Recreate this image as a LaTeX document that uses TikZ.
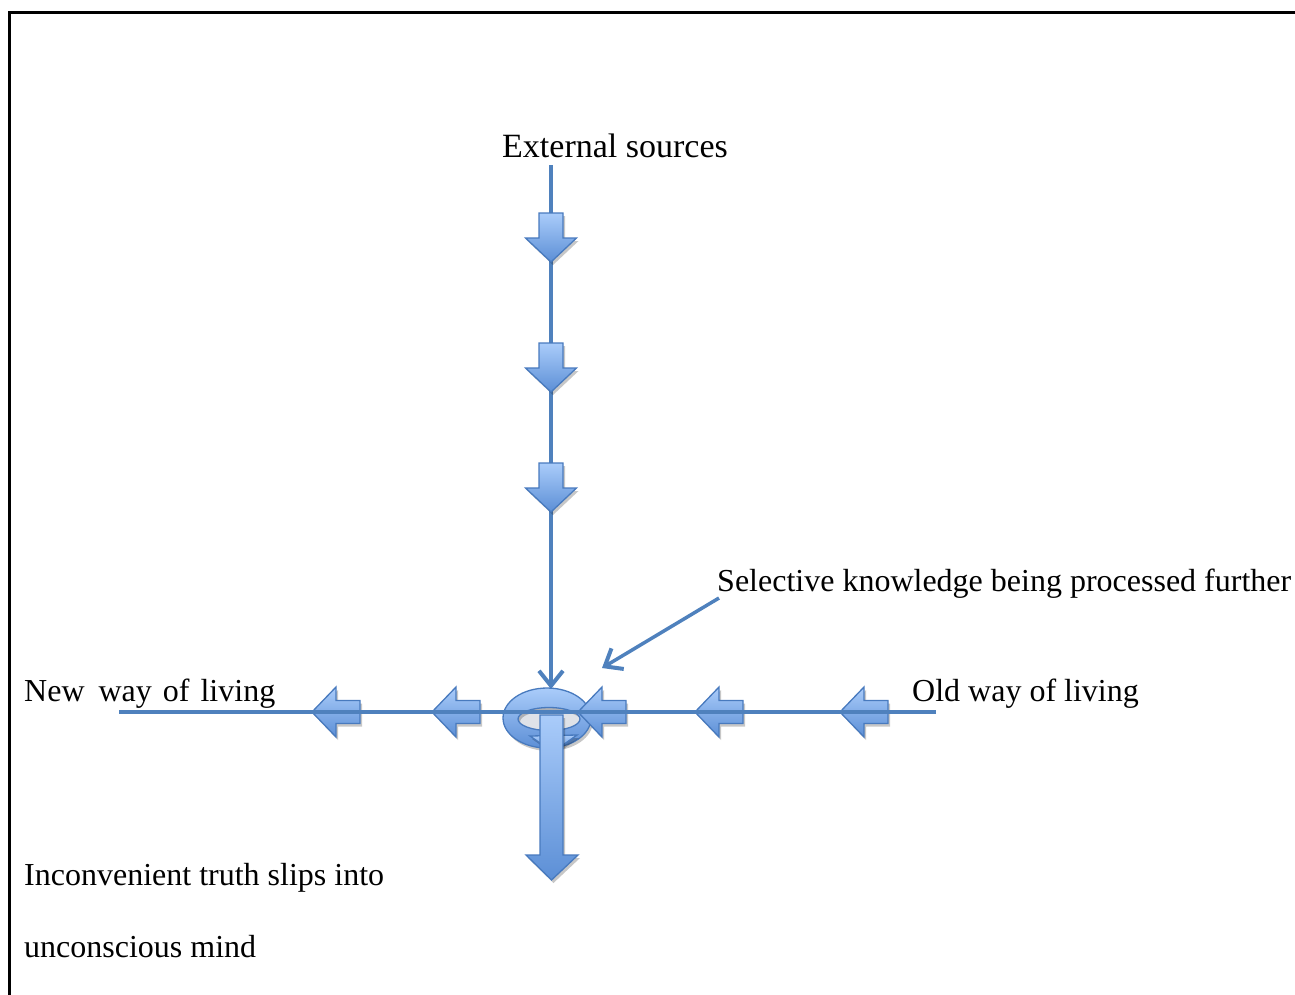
\documentclass[tikz,border=0pt]{standalone}
\usepackage{fontspec}
\setmainfont{Liberation Serif}
\usetikzlibrary{arrows.meta,shadows}
\definecolor{lineblue}{RGB}{79,129,189}
\definecolor{edgeblue}{RGB}{72,122,190}
\definecolor{fillhi}{RGB}{170,204,250}
\definecolor{filllo}{RGB}{92,143,214}
\definecolor{holegrey}{RGB}{222,226,232}
\tikzset{
  conn/.style={draw=lineblue,line width=4pt},
  barb/.style={-{Straight Barb[length=15pt,width=24pt,line width=4pt]}},
  blkbase/.style={draw=edgeblue,line width=1.3pt,line join=miter,top color=fillhi,bottom color=filllo},
  blk/.style={blkbase,drop shadow={shadow xshift=2pt,shadow yshift=-3pt,opacity=0.22,fill=black}},
  lbl/.style={font=\fontsize{32}{38}\selectfont,inner sep=0pt,text=black},
  downblk/.pic={\path[blk] (-12,0) -- (12,0) -- (12,25) -- (25.5,25) -- (0,49) -- (-25.5,25) -- (-12,25) -- cycle;},
  leftblk/.pic={\path[blk] (0,0) -- (24,-25) -- (24,-11.5) -- (48,-11.5) -- (48,11.5) -- (24,11.5) -- (24,25) -- cycle;}
}
\begin{document}
\begin{tikzpicture}[x=1pt,y=-1pt]
\useasboundingbox (0,0) rectangle (1295,994);
\begin{scope}
\clip (0,0) rectangle (1295,994);
\draw[line width=3pt] (9,12) rectangle (1320,1020);
\end{scope}

% named end points
\coordinate (vtop) at (551,165);
\coordinate (ringtop) at (551,689);
\coordinate (hright) at (936,712);
\coordinate (hleft) at (119,712);
\coordinate (dstart) at (719,598);
\coordinate (dtip) at (602,668);

% vertical connector (behind block arrows)
\draw[conn,barb] (vtop) -- (ringtop);
\pic at (551,213) {downblk};
\pic at (551,343) {downblk};
\pic at (551,463) {downblk};

% left-pointing block arrows
\pic at (312,712) {leftblk};
\pic at (432,712) {leftblk};
\pic at (695,712) {leftblk};
\pic at (840,712) {leftblk};

% central ring
\fill[holegrey] (549,719) ellipse [x radius=31,y radius=11.5];
\path[blkbase,even odd rule,drop shadow={shadow xshift=2pt,shadow yshift=-3pt,opacity=0.22,fill=black,even odd rule}]
  (547,718) ellipse [x radius=44,y radius=30] (549,719) ellipse [x radius=31,y radius=11.5];
\path[blk] (530,736) -- (577,735) -- (553,752) -- cycle;
\pic at (578,712) {leftblk};

% horizontal connector (over block arrows)
\draw[conn] (hright) -- (hleft);

% big down arrow
\path[blk] (540,715) -- (563,715) -- (563,855) -- (578,855) -- (551.5,880) -- (526,855) -- (540,855) -- cycle;

% diagonal pointer
\draw[conn,barb,line width=3.5pt] (dstart) -- (dtip);

% labels
\node[lbl,anchor=base west] (ext) at (502,157) {\fontsize{34}{40}\selectfont External sources};
\node[lbl,anchor=base west] (sel) at (717,591) {Selective knowledge being processed further};
\node[lbl,anchor=base west] (old) at (912,701) {Old way of living};
\node[lbl,anchor=base west] (new) at (24,701) {New\hspace{6pt} way\hspace{3pt} of\hspace{3pt} living};
\node[lbl,anchor=base west] (inc) at (24,885) {Inconvenient truth slips into};
\node[lbl,anchor=base west] (unc) at (24,957) {unconscious mind};
\end{tikzpicture}
\end{document}
